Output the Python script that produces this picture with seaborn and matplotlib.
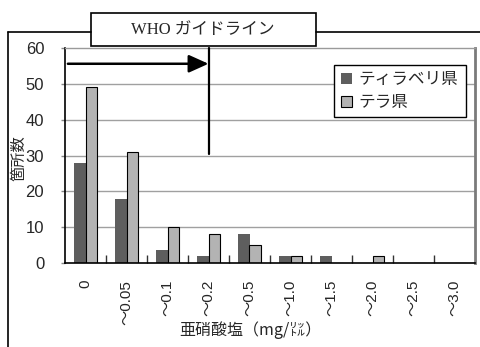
import matplotlib
matplotlib.use("Agg")
import matplotlib.pyplot as plt
from matplotlib.lines import Line2D
from matplotlib.patches import Rectangle
import seaborn as sns
import pandas as pd

# Nitrite concentration classes (mg/L) and number of sites per prefecture
categories = ["0", "〜0.05", "〜0.1", "〜0.2", "〜0.5", "〜1.0", "〜1.5", "〜2.0", "〜2.5", "〜3.0"]
tillaberi = [28, 18, 3.5, 2, 8, 2, 2, 0, 0, 0]
tera = [49, 31, 10, 8, 5, 2, 0, 2, 0, 0]
series_names = ["ティラベリ県", "テラ県"]
y_ticks = [0, 10, 20, 30, 40, 50, 60]
guideline_pos = 3          # guideline drawn at the "〜0.2" class
guideline_bottom = 30.5

sns.set_theme(style="white")
plt.rcParams["font.family"] = ["Liberation Sans", "Noto Sans CJK JP"]

df = pd.DataFrame({
    "class": categories * 2,
    "sites": tillaberi + tera,
    "pref": [series_names[0]] * len(categories) + [series_names[1]] * len(categories),
})

W, H = 481, 347
fig = plt.figure(figsize=(W / 100, H / 100), dpi=100)
ax = fig.add_axes([65 / W, 1 - 263 / H, 410 / W, 215 / H])

dark, light = "#5e5e5e", "#b3b3b3"
sns.barplot(data=df, x="class", y="sites", hue="pref", order=categories,
            hue_order=series_names, palette=[dark, light], width=0.58,
            saturation=1, ax=ax, legend=False)
for bar in ax.containers[0]:
    bar.set_edgecolor("none")
for bar in ax.containers[1]:
    bar.set_edgecolor("black")
    bar.set_linewidth(0.8)

ax.set_xlim(-0.5, len(categories) - 0.5)
ax.set_ylim(0, 60)
ax.set_yticks(y_ticks)
ax.set_yticklabels([str(v) for v in y_ticks], fontsize=12)
ax.set_xticks(range(len(categories)))
ax.set_xticklabels(categories, rotation=90, fontsize=11)
ax.set_xticks([i + 0.5 for i in range(len(categories) - 1)], minor=True)
ax.tick_params(axis="x", which="major", length=0, pad=12)
ax.tick_params(axis="x", which="minor", direction="in", length=6, width=1, color="#333333", bottom=True)
ax.tick_params(axis="y", which="major", direction="out", length=3, width=1, color="#888888", left=True, pad=12)
ax.set_xlabel("")
ax.set_ylabel("")

for v in y_ticks[1:-1]:
    ax.axhline(v, color="#a0a0a0", lw=1, zorder=0)

for side in ("left", "bottom"):
    ax.spines[side].set_color("black")
    ax.spines[side].set_linewidth(1.2)
ax.spines["top"].set_color("#9a9a9a")
ax.spines["top"].set_linewidth(1)
ax.spines["right"].set_color("#7a7a7a")
ax.spines["right"].set_linewidth(2)

# Guideline marker and arrow
ax.plot([guideline_pos, guideline_pos], [60, guideline_bottom], color="black", lw=1.6, zorder=5, clip_on=False)
ax.annotate("", xy=(guideline_pos, 55.6), xytext=(-0.43, 55.6),
            arrowprops=dict(arrowstyle="-|>,head_length=1.0,head_width=0.45", color="black", lw=1.8,
                            shrinkA=0, shrinkB=0), zorder=5)

handles = [Rectangle((0, 0), 1, 1, facecolor=dark, edgecolor="none"),
           Rectangle((0, 0), 1, 1, facecolor=light, edgecolor="black", linewidth=0.8)]
leg = ax.legend(handles, series_names, loc="upper right", bbox_to_anchor=(0.978, 0.921),
                borderaxespad=0, fontsize=12, handlelength=0.65, handleheight=0.65,
                handletextpad=0.4, labelspacing=0.45, borderpad=0.45, fancybox=False,
                frameon=True, framealpha=1)
leg.get_frame().set_edgecolor("black")
leg.get_frame().set_linewidth(1)

# Outer frame with the titled box
def fx(x):
    return x / W

def fy(y):
    return 1 - y / H

fig.add_artist(Line2D([fx(8), fx(8)], [fy(32), fy(347)], color="black", lw=1.2))
fig.add_artist(Line2D([fx(8), fx(91)], [fy(32), fy(32)], color="black", lw=1.2))
fig.add_artist(Line2D([fx(316), fx(481)], [fy(32), fy(32)], color="black", lw=1.2))
fig.add_artist(Rectangle((fx(91), fy(46)), fx(316) - fx(91), fy(13) - fy(46),
                         facecolor="white", edgecolor="black", lw=1.2))
fig.text(fx(203), fy(30), "WHO ガイドライン", ha="center", va="center", fontsize=12,
         family=["Liberation Serif", "Noto Sans CJK JP"])

fig.text(fx(19), fy(158), "箇所数", rotation=90, ha="center", va="center", fontsize=11,
         family=["Noto Sans CJK JP", "Liberation Sans"])
fig.text(fx(250), fy(330), "亜硝酸塩（mg/㍑）", ha="center", va="center", fontsize=11.5,
         family=["Noto Sans CJK JP", "Liberation Sans"])

fig.savefig("out.png", dpi=100, facecolor="white")
